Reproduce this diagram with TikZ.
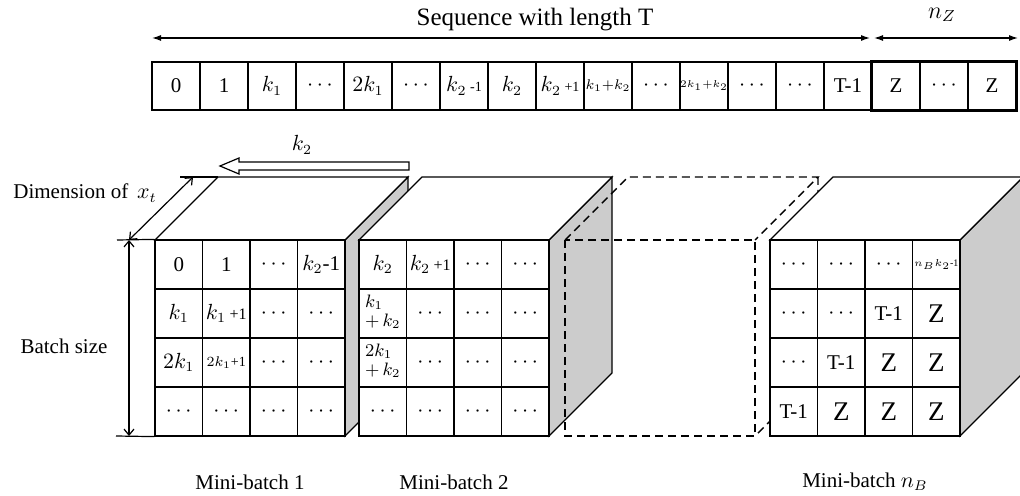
\documentclass[tikz,border=0pt]{standalone}
\usepackage{fontspec}
\setmainfont{Liberation Serif}
\usetikzlibrary{arrows.meta, positioning}

% side and top faces of one mini-batch block, #1 = left edge of the front face
\newcommand{\cubeframe}[1]{%
  \draw[sideface] ({#1+190},240) -- ({#1+253},177) -- ({#1+253},373) -- ({#1+190},436) -- cycle;
  \draw[topface] (#1,240) -- ({#1+63},177) -- ({#1+253},177) -- ({#1+190},240) -- cycle;
}
% 4x4 front grid, #1 = left edge, #2 = name prefix, #3 = rows
\newcommand{\cellgrid}[3]{%
  \foreach \rowlist [count=\r from 0] in {#3} {
    \foreach \t [count=\c from 0] in \rowlist {
      \node[cell] (#2-\r\c) at ({#1+23.75+47.5*\c},{264.5+49*\r}) {\t};
    }
  }
  \draw[frontline] (#1,240) rectangle ({#1+190},436);
}
\newcommand{\bigZ}{{\fontsize{13.5}{14}\selectfont Z}}
\newcommand{\twoline}[2]{{\small\renewcommand{\arraystretch}{0.85}%
  \begin{tabular}{@{}l@{}}$#1$\\$+\,#2$\end{tabular}}}

\begin{document}
\begin{tikzpicture}[
    x=0.5pt, y=-0.5pt,
    font=\fontsize{10.5}{12.6}\selectfont,
    line width=0.6pt,
    seqcell/.style={draw, minimum width=24pt, minimum height=24pt, inner sep=0pt},
    cell/.style={draw, fill=white, minimum width=23.75pt, minimum height=24.5pt, inner sep=0pt, align=center},
    frontline/.style={line width=1.1pt},
    sideface/.style={draw, fill=black!20},
    topface/.style={draw, fill=white},
    ghost/.style={line width=0.7pt, dash pattern=on 4pt off 2.5pt},
    arrow/.style={{Latex[length=4.5pt,width=3pt]}-{Latex[length=4.5pt,width=3pt]}},
    dimarrow/.style={{Straight Barb[length=3pt,width=5pt]}-{Straight Barb[length=3pt,width=5pt]}}
]
\useasboundingbox (0,0) rectangle (1020,496);

% Sequence
\foreach \t [count=\i from 0] in {0, 1, $k_1$, $\cdots$, $2k_1$, $\cdots$, {$k_2$\,{\scriptsize -1}},
    $k_2$, {$k_2$\,{\scriptsize +1}}, {\scriptsize$k_1{+}k_2$}, $\cdots$, {\tiny$2k_1{+}k_2$},
    $\cdots$, $\cdots$, T-1, Z, $\cdots$, Z}
  \node[seqcell] (s\i) at ({176+48*\i},86) {\t};
\draw[line width=1.6pt] (s15.north west) rectangle (s17.south east);

\coordinate (seqL) at (152,38);
\coordinate (seqR) at (870,38);
\coordinate (nzL) at (874,38);
\coordinate (nzR) at (1018,38);
\draw[arrow] (seqL) -- (seqR);
\draw[arrow] (nzL) -- (nzR);
\node[font=\fontsize{12.5}{15}\selectfont] (seqlabel) at (535,20) {Sequence with length T};
\node[font=\large] (nzlabel) at (942,15) {$n_Z$};

% Mini-batch 1
\cubeframe{155}
\cellgrid{155}{a}{{0, 1, $\cdots$, {$k_2$-1}},
  {$k_1$, {$k_1$\,{\footnotesize +1}}, $\cdots$, $\cdots$},
  {$2k_1$, {\scriptsize$2k_1$+1}, $\cdots$, $\cdots$},
  {$\cdots$, $\cdots$, $\cdots$, $\cdots$}}

% Mini-batch 2
\cubeframe{359}
\cellgrid{359}{b}{{$k_2$, {$k_2$\,{\footnotesize +1}}, $\cdots$, $\cdots$},
  {\twoline{k_1}{k_2}, $\cdots$, $\cdots$, $\cdots$},
  {\twoline{2k_1}{k_2}, $\cdots$, $\cdots$, $\cdots$},
  {$\cdots$, $\cdots$, $\cdots$, $\cdots$}}

% Omitted mini-batches
\draw[ghost] (565,240) rectangle (755,436);
\draw[ghost] (565,240) -- (628,177) -- (818,177) -- (755,240);
\draw[ghost] (818,177) -- (818,373) -- (755,436);

% Mini-batch n_B
\cubeframe{770}
\cellgrid{770}{n}{{$\cdots$, $\cdots$, $\cdots$, {\tiny$n_Bk_2$-1}},
  {$\cdots$, $\cdots$, T-1, \bigZ},
  {$\cdots$, T-1, \bigZ, \bigZ},
  {T-1, \bigZ, \bigZ, \bigZ}}

% Shift k_2
\draw[fill=white] (409,162) -- (239,162) -- (239,158) -- (220,166) -- (239,174) -- (239,170) -- (409,170) -- cycle;
\node (k2label) at (302,145) {$k_2$};

% Dimensions
\coordinate (backTL) at (218,177);
\coordinate (extTop) at (180,177);
\coordinate (extMid) at (117,240);
\coordinate (extBot) at (116,436);
\coordinate (dimLo) at (129,240);
\coordinate (dimHi) at (193,177);
\coordinate (batchLo) at (129,436);
\draw (extTop) -- (backTL);
\draw (extMid) -- (a-00.north west);
\draw (extBot) -- (a-30.south west);
\draw[dimarrow] (dimLo) -- (dimHi);
\draw[dimarrow] (dimLo) -- (batchLo);
\node (dimlabel) at (85,193) {Dimension of \,$x_t$};
\node (batchlabel) at (64,346) {Batch size};

% Labels
\node (mb1) at (250,482) {Mini-batch 1};
\node (mb2) at (454,482) {Mini-batch 2};
\node (mbn) at (865,482) {Mini-batch $n_B$};

\end{tikzpicture}
\end{document}
